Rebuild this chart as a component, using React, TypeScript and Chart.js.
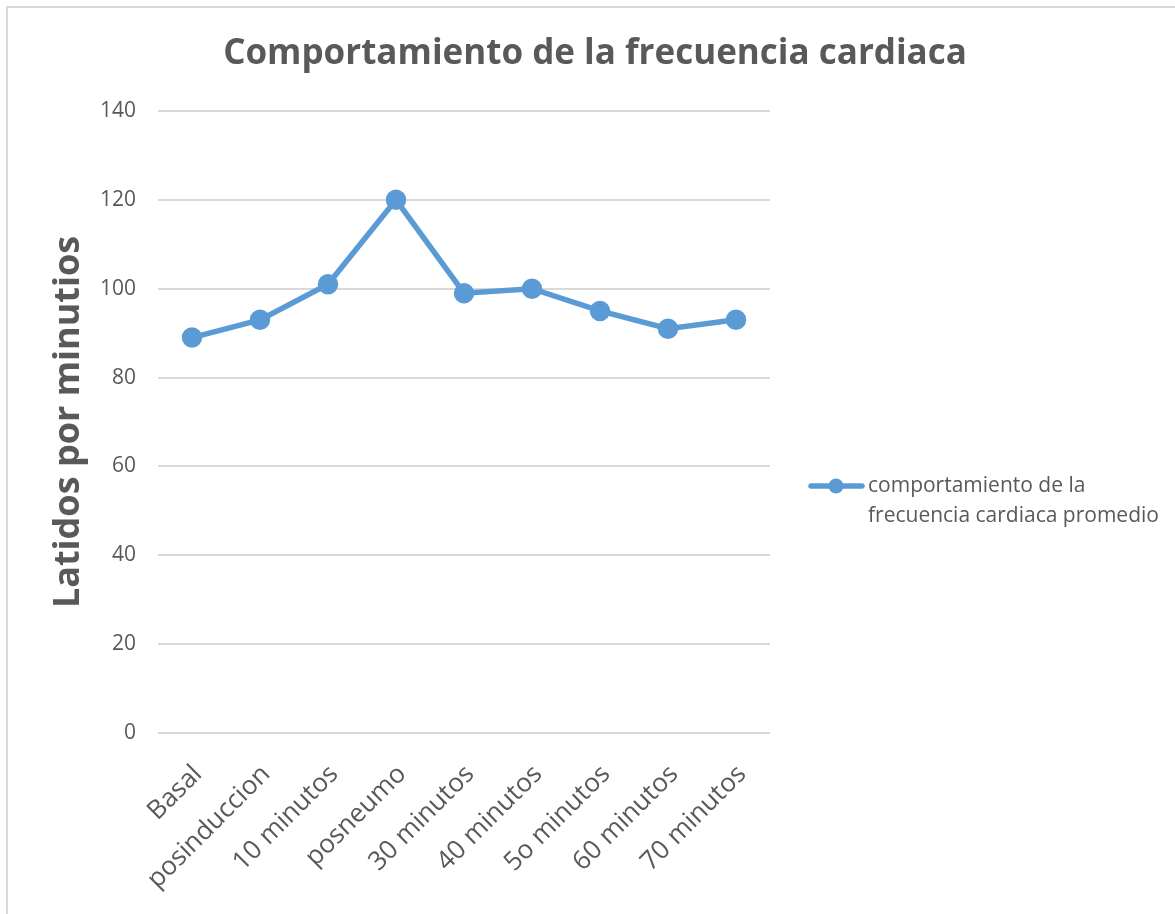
import React, { useEffect, useRef } from "react";
import { Chart, registerables } from "chart.js";

Chart.register(...registerables);

const categories = [
  "Basal",
  "posinduccion",
  "10 minutos",
  "posneumo",
  "30 minutos",
  "40 minutos",
  "5o minutos",
  "60 minutos",
  "70 minutos",
];
const heartRate = [89, 93, 101, 120, 99, 100, 95, 91, 93];
const seriesName = "comportamiento de la frecuencia cardiaca promedio";
const legendLines = ["comportamiento de la", "frecuencia cardiaca promedio"];
const chartTitle = "Comportamiento de la frecuencia cardiaca";
const yAxisTitle = "Latidos por minutios";

const FONT = "'Open Sans', 'DejaVu Sans', sans-serif";
const TEXT = "#595959";
const GRID = "#d9d9d9";
const LINE = "#5b9bd5";

const decorPlugin = {
  id: "decor",
  afterDraw(chart: any) {
    const ctx = chart.ctx as CanvasRenderingContext2D;
    ctx.save();
    // outer border (top & left visible)
    ctx.strokeStyle = GRID;
    ctx.lineWidth = 2;
    ctx.beginPath();
    ctx.moveTo(7, 914);
    ctx.lineTo(7, 7);
    ctx.lineTo(1175, 7);
    ctx.stroke();
    // title
    ctx.fillStyle = TEXT;
    ctx.font = `bold 35px ${FONT}`;
    ctx.textAlign = "center";
    ctx.textBaseline = "middle";
    ctx.fillText(chartTitle, 595, 54);
    // legend
    const ly = 486;
    ctx.strokeStyle = LINE;
    ctx.lineWidth = 5.5;
    ctx.lineCap = "round";
    ctx.beginPath();
    ctx.moveTo(811, ly);
    ctx.lineTo(862, ly);
    ctx.stroke();
    ctx.fillStyle = LINE;
    ctx.beginPath();
    ctx.arc(836, ly, 7.5, 0, Math.PI * 2);
    ctx.fill();
    ctx.fillStyle = TEXT;
    ctx.font = `21px ${FONT}`;
    ctx.textAlign = "left";
    legendLines.forEach((t, i) => ctx.fillText(t, 868, ly + i * 30));
    ctx.restore();
  },
};

export default function App() {
  const ref = useRef<HTMLCanvasElement>(null);
  useEffect(() => {
    if (!ref.current) return;
    const chart = new Chart(ref.current, {
      type: "line",
      data: {
        labels: categories,
        datasets: [
          {
            label: seriesName,
            data: heartRate,
            borderColor: LINE,
            backgroundColor: LINE,
            borderWidth: 5.5,
            pointRadius: 7.5,
            pointHoverRadius: 7.5,
            pointBackgroundColor: LINE,
            pointBorderColor: LINE,
            tension: 0,
          },
        ],
      },
      options: {
        animation: false,
        responsive: false,
        maintainAspectRatio: false,
        layout: { padding: { left: 0, right: 405, top: 111, bottom: 0 } },
        plugins: {
          legend: { display: false },
          title: { display: false },
          tooltip: { enabled: false },
        },
        scales: {
          x: {
            offset: true,
            grid: { display: false, offset: true },
            border: { display: false },
            ticks: {
              autoSkip: false,
              maxRotation: 45,
              minRotation: 45,
              padding: 18,
              labelOffset: 6,
              color: TEXT,
              font: { family: FONT, size: 26 },
            },
            afterFit(scale: any) {
              scale.height = 181;
            },
          },
          y: {
            min: 0,
            max: 140,
            ticks: {
              stepSize: 20,
              padding: 22,
              color: TEXT,
              font: { family: FONT, size: 21 },
            },
            grid: { color: GRID, lineWidth: 2, drawTicks: false },
            border: { display: false },
            title: {
              display: true,
              text: yAxisTitle,
              color: TEXT,
              font: { family: FONT, size: 36, weight: "bold" },
              padding: { top: 47, bottom: 0 },
            },
            afterFit(scale: any) {
              scale.width = 158;
            },
          },
        },
      },
      plugins: [decorPlugin],
    });
    return () => chart.destroy();
  }, []);
  return (
    <div style={{ position: "absolute", left: 0, top: 0, width: 1175, height: 914, background: "#fff" }}>
      <canvas ref={ref} width={1175} height={914} style={{ display: "block" }} />
    </div>
  );
}
